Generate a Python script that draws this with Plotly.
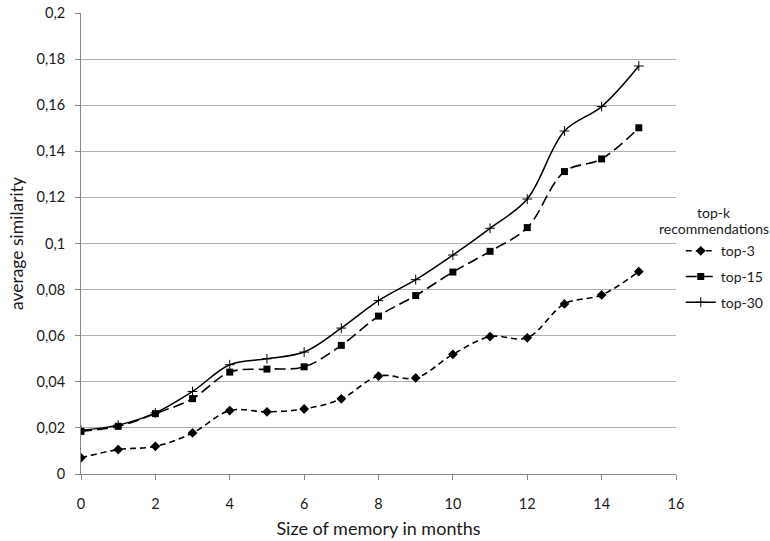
import plotly.graph_objects as go

months = list(range(16))
top3 = [0.0070, 0.0106, 0.0120, 0.0178, 0.0275, 0.0270, 0.0282, 0.0326, 0.0425, 0.0417,
        0.0519, 0.0596, 0.0591, 0.0738, 0.0777, 0.0878]
top15 = [0.0185, 0.0207, 0.0262, 0.0327, 0.0442, 0.0455, 0.0465, 0.0558, 0.0685, 0.0774,
         0.0876, 0.0966, 0.1069, 0.1312, 0.1367, 0.1502]
top30 = [0.0190, 0.0212, 0.0265, 0.0358, 0.0474, 0.0500, 0.0529, 0.0633, 0.0752, 0.0843,
         0.0950, 0.1066, 0.1193, 0.1488, 0.1594, 0.1770]
series_names = ["top-3", "top-15", "top-30"]
x_ticks = list(range(0, 17, 2))
y_ticks = [0, 0.02, 0.04, 0.06, 0.08, 0.1, 0.12, 0.14, 0.16, 0.18, 0.2]
legend_title_lines = ["top-k", "recommendations"]

FONT = "Lato, 'Open Sans', sans-serif"
TXT = "#1a1a1a"

fig = go.Figure()
fig.add_trace(go.Scatter(
    x=months, y=top3, name=series_names[0], mode="lines+markers", legendgroup="a",
    line=dict(color="black", width=1.6, dash="6px,4px", shape="spline", smoothing=1),
    marker=dict(symbol="diamond", size=7.5, color="black"),
))
fig.add_trace(go.Scatter(
    x=months, y=top15, name=series_names[1], mode="lines+markers", legendgroup="b",
    line=dict(color="black", width=1.6, dash="11px,5px", shape="spline", smoothing=1),
    marker=dict(symbol="square", size=7, color="black"),
))
fig.add_trace(go.Scatter(
    x=months, y=top30, name=series_names[2], mode="lines+markers", legendgroup="c",
    line=dict(color="black", width=1.5, shape="spline", smoothing=1),
    marker=dict(symbol="cross-thin", size=7, color="black", line=dict(color="black", width=1)),
))

for txt, yy in zip(legend_title_lines, [0.567, 0.532]):
    fig.add_annotation(
        text=txt, xref="paper", yref="paper", x=1.064, y=yy,
        xanchor="center", yanchor="middle", showarrow=False,
        font=dict(family=FONT, size=14, color=TXT),
    )

fig.update_layout(
    width=770, height=541,
    margin=dict(l=81, r=94, t=13, b=67, autoexpand=False),
    paper_bgcolor="white", plot_bgcolor="white",
    separators=", ",
    font=dict(family=FONT, size=14.5, color=TXT),
    legend=dict(
        x=1.008, y=0.518, xanchor="left", yanchor="top",
        font=dict(size=14), itemwidth=30, tracegroupgap=4.5,
        bgcolor="rgba(0,0,0,0)",
    ),
    xaxis=dict(
        range=[0, 16], tickmode="array", tickvals=x_ticks,
        showgrid=False, zeroline=False, showline=True, linecolor="#888", linewidth=1,
        ticks="outside", ticklen=5, tickcolor="#888", ticklabelstandoff=12,
        automargin=False,
        title=dict(text="Size of memory in months", standoff=10, font=dict(size=18)),
    ),
    yaxis=dict(
        range=[0, 0.2], tickmode="array", tickvals=y_ticks,
        showgrid=True, gridcolor="#b0b0b0", gridwidth=1, zeroline=False,
        showline=True, linecolor="#888", linewidth=1,
        ticks="outside", ticklen=5, tickcolor="#888", ticklabelstandoff=7,
        automargin=False,
        title=dict(text="average similarity", standoff=8, font=dict(size=17.5)),
    ),
)

fig.write_html("out.html", config={"displayModeBar": False},
               post_script="document.body.style.margin='0';")
